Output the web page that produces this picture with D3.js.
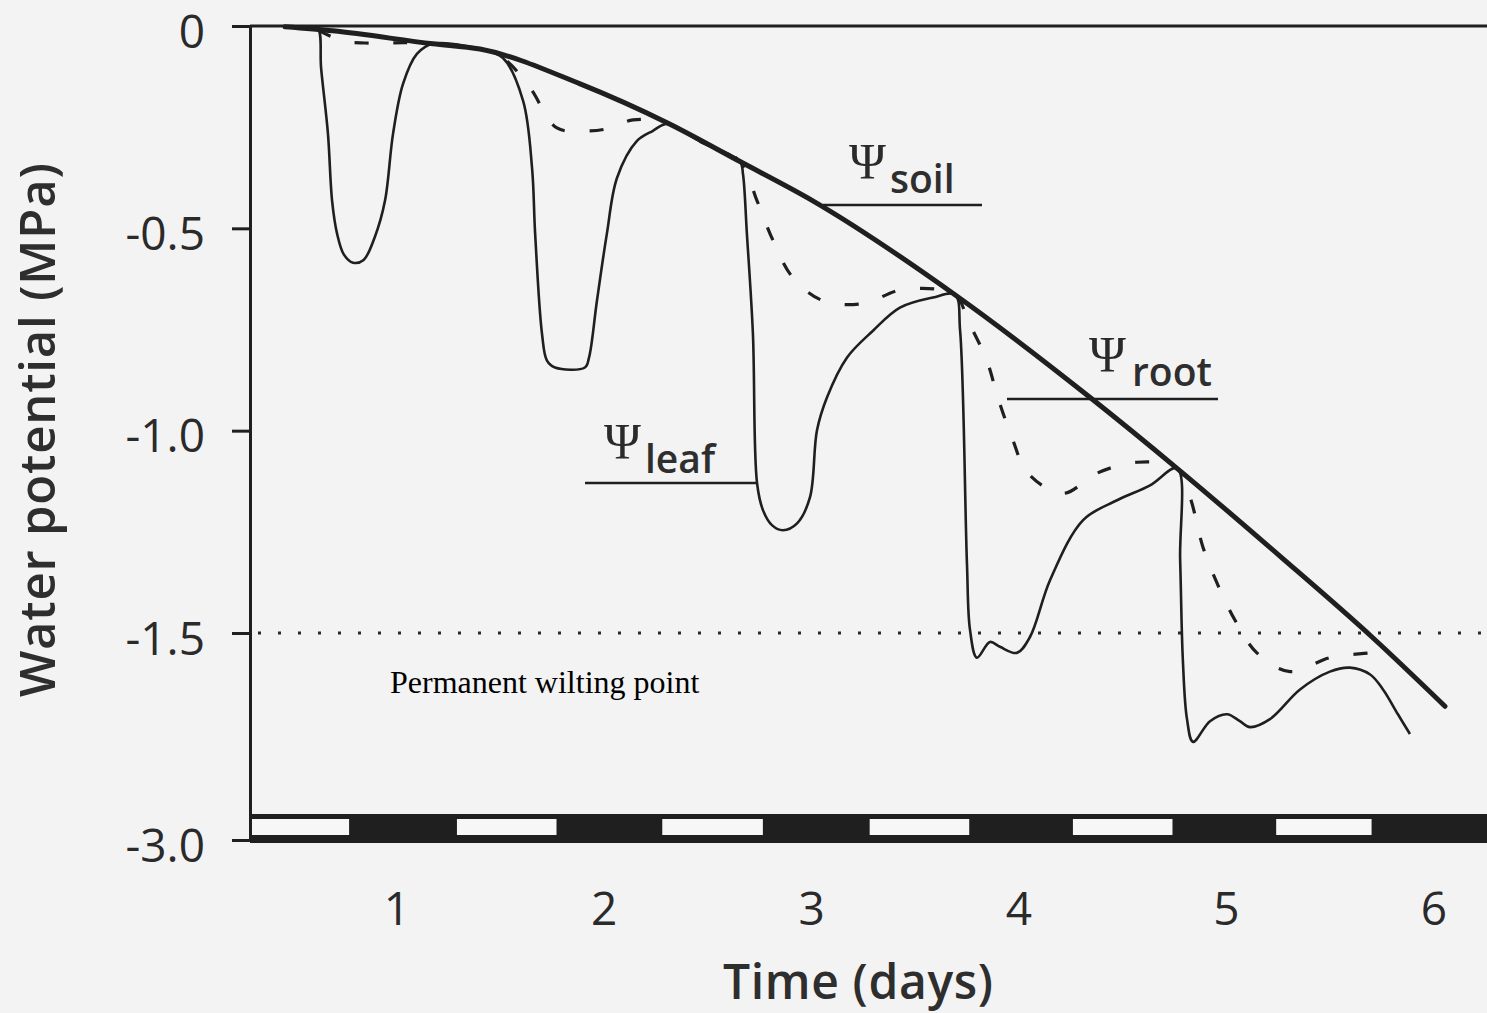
<!DOCTYPE html>
<html>
<head>
<meta charset="utf-8">
<script src="https://cdn.jsdelivr.net/npm/d3@7/dist/d3.min.js"></script>
<style>
  html, body { margin: 0; padding: 0; background: #f3f3f3; }
  svg { display: block; }
</style>
</head>
<body>
<svg id="chart" width="1487" height="1013"></svg>
<script>
// ---------- data (days, MPa) ----------
const xTickValues = [1, 2, 3, 4, 5, 6];
const yTickValues = [0, -0.5, -1.0, -1.5, -3.0];
const yTickLabels = ["0", "-0.5", "-1.0", "-1.5", "-3.0"];

const soilDay = [0.461, 0.692, 1.174, 1.401, 1.884, 2.303, 2.655, 3.006, 3.691, 4.343, 4.762, 5.258, 5.702, 6.054];
const soilPsi = [-0.002, -0.012, -0.044, -0.057, -0.143, -0.239, -0.335, -0.432, -0.664, -0.918, -1.093, -1.310, -1.529, -2.031];

const leafDay = [0.581, 0.620, 0.635, 0.668, 0.688, 0.712, 0.745, 0.789, 0.840, 0.895, 0.943, 0.982, 1.030, 1.097, 1.174,
  1.401, 1.512, 1.609, 1.652, 1.667, 1.700, 1.724, 1.763, 1.907, 1.927, 1.965, 2.013, 2.062, 2.158, 2.235, 2.303,
  2.462, 2.655, 2.669, 2.688, 2.717, 2.737, 2.766, 2.810, 2.862, 2.930, 2.992, 3.026, 3.074, 3.171, 3.296, 3.426, 3.585, 3.691,
  3.716, 3.749, 3.764, 3.797, 3.860, 3.908, 3.990, 4.053, 4.150, 4.309, 4.473, 4.632, 4.762,
  4.777, 4.790, 4.810, 4.839, 4.921, 5.003, 5.065, 5.114, 5.210, 5.355, 5.499, 5.596, 5.693, 5.755, 5.827, 5.885];
const leafPsi = [-0.005, -0.007, -0.104, -0.266, -0.432, -0.513, -0.565, -0.585, -0.578, -0.520, -0.432, -0.266, -0.143, -0.069, -0.044,
  -0.057, -0.079, -0.185, -0.350, -0.513, -0.760, -0.827, -0.844, -0.844, -0.819, -0.679, -0.513, -0.375, -0.284, -0.259, -0.242,
  -0.285, -0.335, -0.365, -0.513, -0.760, -1.130, -1.197, -1.234, -1.246, -1.229, -1.165, -0.999, -0.918, -0.819, -0.753, -0.696, -0.671, -0.664,
  -0.753, -1.327, -1.493, -1.679, -1.565, -1.600, -1.644, -1.529, -1.369, -1.221, -1.172, -1.135, -1.093,
  -1.320, -1.694, -2.124, -2.289, -2.139, -2.089, -2.139, -2.182, -2.124, -1.909, -1.780, -1.751, -1.801, -1.909, -2.089, -2.232];

const rootDay = [0.620, 0.740, 0.847, 0.933, 1.088, 1.401, 1.512, 1.643, 1.772, 1.931, 2.030, 2.139, 2.303,
  2.462, 2.655, 2.737, 2.814, 2.910, 3.055, 3.248, 3.441, 3.691,
  3.754, 3.845, 3.898, 3.966, 4.043, 4.212, 4.376, 4.569, 4.762,
  4.825, 4.887, 4.955, 5.041, 5.147, 5.307, 5.499, 5.693, 5.765];
const rootPsi = [-0.010, -0.037, -0.042, -0.042, -0.042, -0.057, -0.079, -0.153, -0.252, -0.259, -0.252, -0.232, -0.239,
  -0.285, -0.335, -0.432, -0.530, -0.622, -0.679, -0.686, -0.651, -0.664,
  -0.728, -0.827, -0.918, -1.017, -1.105, -1.155, -1.105, -1.078, -1.093,
  -1.165, -1.288, -1.377, -1.468, -1.644, -1.780, -1.679, -1.644, -1.630];

// light periods (white) on the day/night bar
const dayStart = [0.29, 1.29, 2.28, 3.28, 4.26, 5.24];
const dayEnd   = [0.77, 1.77, 2.765, 3.76, 4.74, 5.70];

const wiltingPoint = -1.5;

// ---------- layout ----------
const W = 1487, H = 1013;
const ink = "#1f1f1f";
const svg = d3.select("#chart");
svg.append("rect").attr("width", W).attr("height", H).attr("fill", "#f3f3f3");

const x = d3.scaleLinear().domain([0, 6]).range([189.4, 1433.8]);
const y = d3.scaleLinear().domain([0, -1.5, -3.0]).range([26, 633, 840]);
const axisX = 250;
const rightEdge = W;

// day/night bar
const barTop = y(-3.0) - 26;
svg.append("rect")
  .attr("x", axisX).attr("y", barTop)
  .attr("width", rightEdge - axisX).attr("height", y(-3.0) + 3 - barTop)
  .attr("fill", ink);
svg.append("g").selectAll("rect").data(dayStart).join("rect")
  .attr("x", d => Math.max(x(d), axisX + 1.5))
  .attr("y", barTop + 5)
  .attr("width", (d, i) => x(dayEnd[i]) - Math.max(x(d), axisX + 1.5))
  .attr("height", 16)
  .attr("fill", "#f7f7f7");

// top zero line
svg.append("line")
  .attr("x1", axisX).attr("x2", rightEdge)
  .attr("y1", y(0)).attr("y2", y(0))
  .attr("stroke", ink).attr("stroke-width", 3);

// y axis
const yAxis = d3.axisLeft(y)
  .tickValues(yTickValues)
  .tickFormat((d, i) => yTickLabels[i])
  .tickSize(18).tickSizeOuter(0).tickPadding(27);
const gy = svg.append("g").attr("transform", `translate(${axisX},0)`).call(yAxis);
gy.select(".domain").attr("stroke", ink).attr("stroke-width", 3);
gy.selectAll(".tick line").attr("stroke", ink).attr("stroke-width", 3);
gy.selectAll(".tick text")
  .attr("fill", "#2a2a2a")
  .attr("font-family", "'Open Sans', sans-serif")
  .attr("font-size", 46)
  .attr("dy", "0.46em");

// x tick labels (no tick marks)
svg.append("g").selectAll("text").data(xTickValues).join("text")
  .attr("x", d => x(d)).attr("y", 925)
  .attr("text-anchor", "middle")
  .attr("font-family", "'Open Sans', sans-serif")
  .attr("font-size", 46)
  .attr("fill", "#2a2a2a")
  .text(d => d);

// axis titles
svg.append("text")
  .attr("x", 858).attr("y", 999)
  .attr("text-anchor", "middle")
  .attr("font-family", "'Open Sans', sans-serif")
  .attr("font-weight", 600)
  .attr("font-size", 48)
  .attr("fill", "#2e2e2e")
  .attr("textLength", 270).attr("lengthAdjust", "spacing")
  .text("Time (days)");
svg.append("text")
  .attr("transform", "translate(55,430) rotate(-90)")
  .attr("text-anchor", "middle")
  .attr("font-family", "'Open Sans', sans-serif")
  .attr("font-weight", 600)
  .attr("font-size", 49)
  .attr("fill", "#2e2e2e")
  .attr("textLength", 534).attr("lengthAdjust", "spacing")
  .text("Water potential (MPa)");

// wilting point dotted line
svg.append("line")
  .attr("x1", axisX + 8).attr("x2", rightEdge)
  .attr("y1", y(wiltingPoint)).attr("y2", y(wiltingPoint))
  .attr("stroke", "#2a2a2a").attr("stroke-width", 3)
  .attr("stroke-dasharray", "3 17");
svg.append("text")
  .attr("x", 390).attr("y", 693)
  .attr("font-family", "'Liberation Serif', 'Times New Roman', serif")
  .attr("font-size", 32)
  .attr("fill", "#000")
  .text("Permanent wilting point");

// curves
const toPts = (days, psi) => days.map((d, i) => ({ day: d, psi: psi[i] }));
const smooth = d3.line().x(d => x(d.day)).y(d => y(d.psi)).curve(d3.curveCatmullRom.alpha(0.5));
const mono = d3.line().x(d => x(d.day)).y(d => y(d.psi)).curve(d3.curveMonotoneX);

svg.append("path").datum(toPts(rootDay, rootPsi))
  .attr("d", smooth).attr("fill", "none")
  .attr("stroke", ink).attr("stroke-width", 3.2)
  .attr("stroke-dasharray", "14 25");
svg.append("path").datum(toPts(leafDay, leafPsi))
  .attr("d", smooth).attr("fill", "none")
  .attr("stroke", ink).attr("stroke-width", 2.6)
  .attr("stroke-linejoin", "round");
svg.append("path").datum(toPts(soilDay, soilPsi))
  .attr("d", mono).attr("fill", "none")
  .attr("stroke", ink).attr("stroke-width", 5)
  .attr("stroke-linecap", "round");

// Psi labels with leader lines
const labels = [
  { sub: "soil", psiX: 849, psiY: 178, subX: 890, subY: 193, lx1: 823, lx2: 982, ly: 205 },
  { sub: "root", psiX: 1089, psiY: 371, subX: 1132, subY: 386, lx1: 1007, lx2: 1218, ly: 399 },
  { sub: "leaf", psiX: 604, psiY: 458, subX: 645, subY: 473, lx1: 585, lx2: 757, ly: 483 }
];
const lg = svg.append("g");
labels.forEach(l => {
  lg.append("line").attr("x1", l.lx1).attr("x2", l.lx2).attr("y1", l.ly).attr("y2", l.ly)
    .attr("stroke", ink).attr("stroke-width", 2.6);
  lg.append("text").attr("x", l.psiX).attr("y", l.psiY)
    .attr("font-family", "'Liberation Serif', 'DejaVu Serif', serif")
    .attr("font-size", 50).attr("fill", "#2a2a2a").text("Ψ");
  lg.append("text").attr("x", l.subX).attr("y", l.subY)
    .attr("font-family", "'Open Sans', sans-serif").attr("font-weight", 600)
    .attr("font-size", 39).attr("fill", "#2e2e2e").text(l.sub);
});
</script>
</body>
</html>
